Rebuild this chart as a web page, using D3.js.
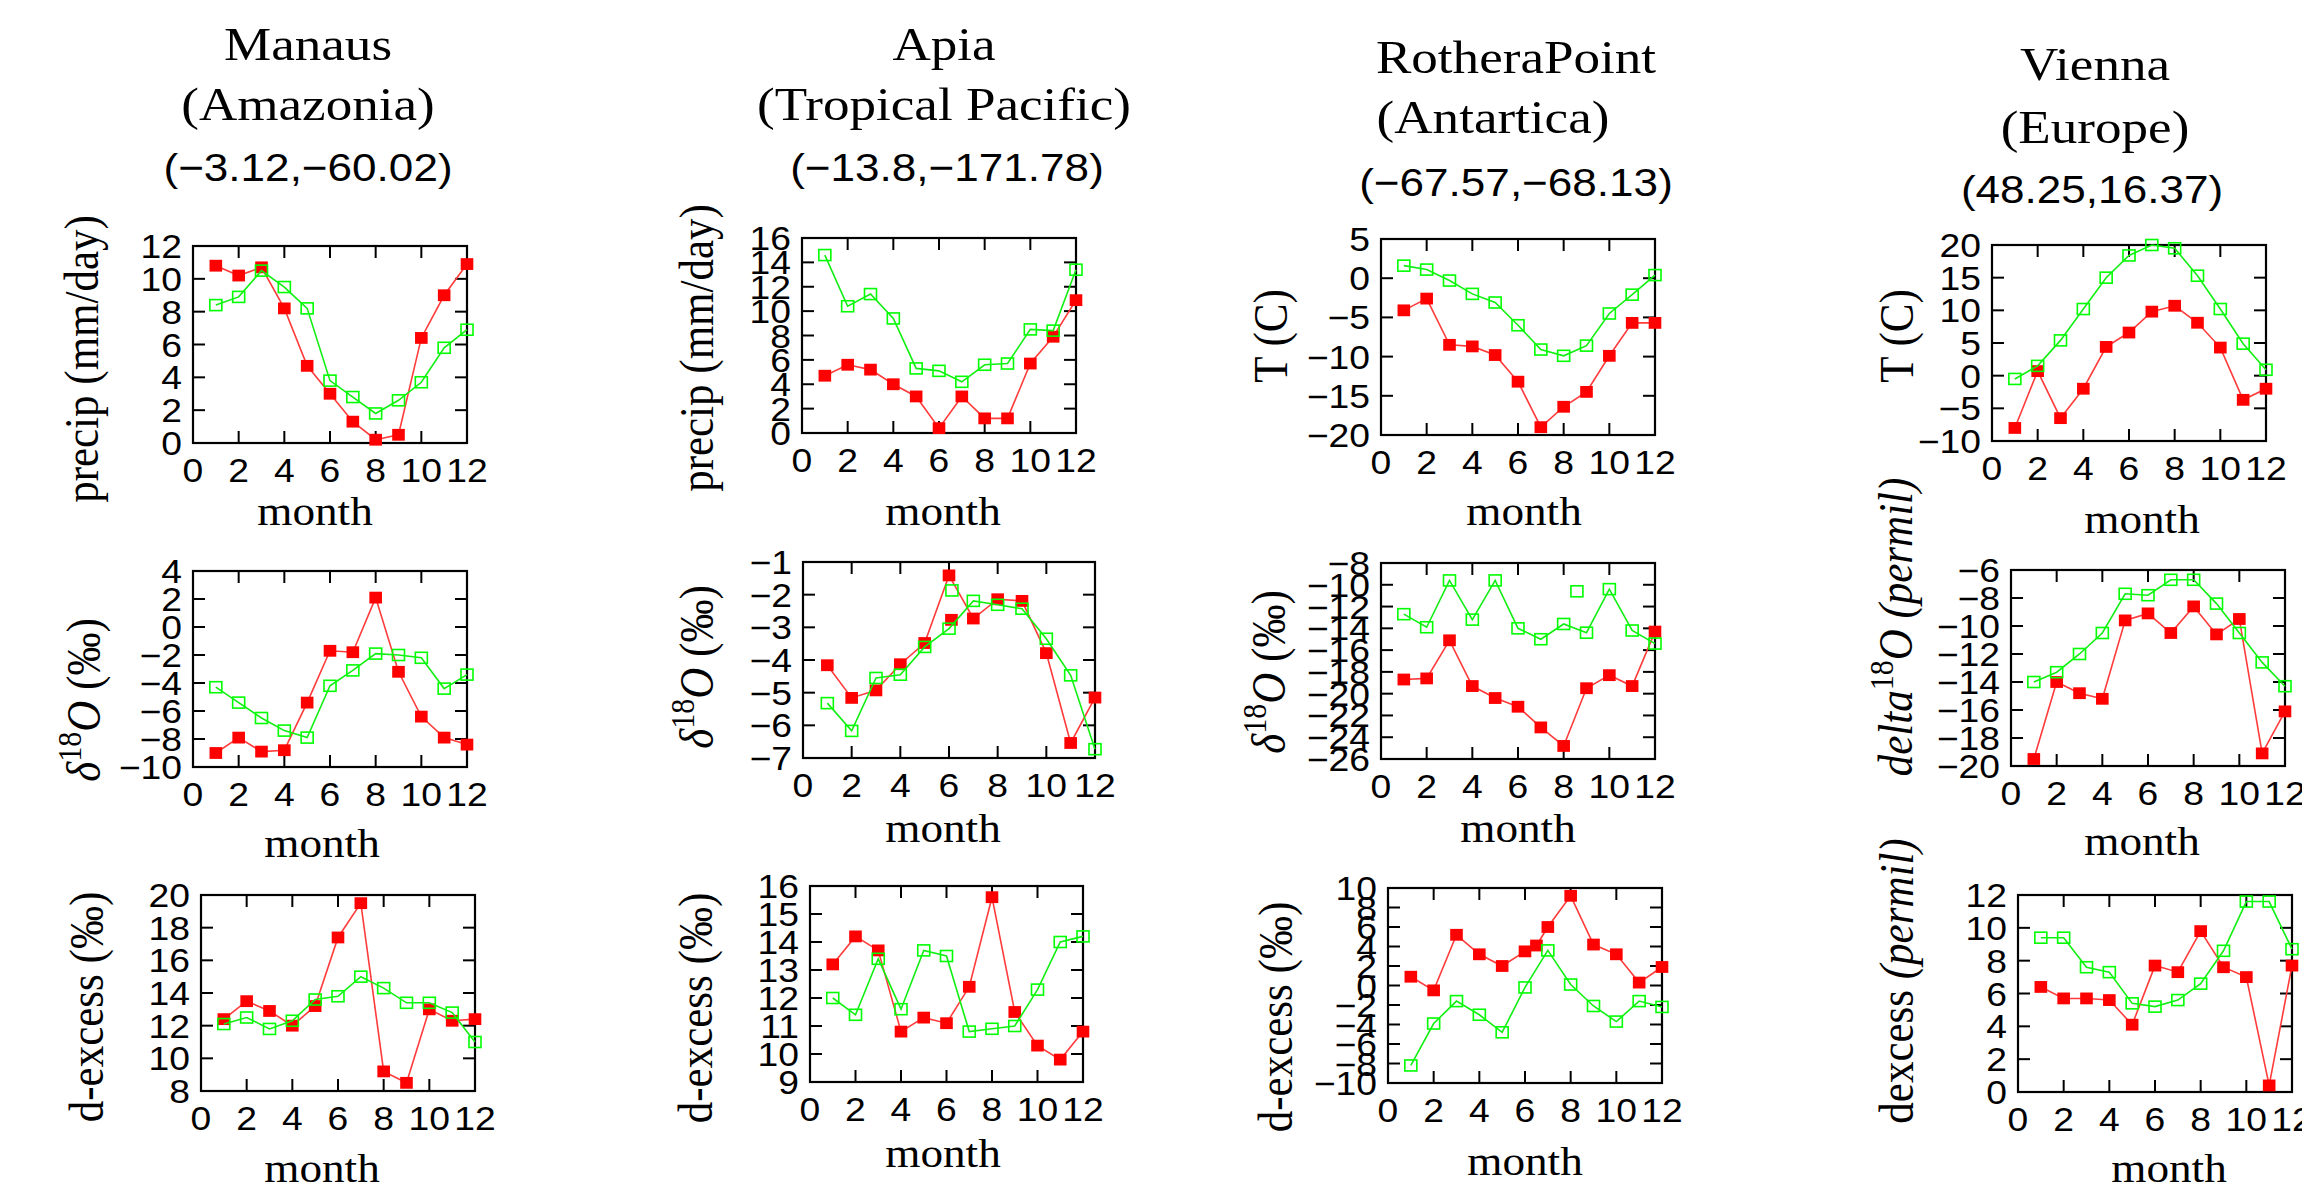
<!DOCTYPE html>
<html><head><meta charset="utf-8">
<script src="https://cdn.jsdelivr.net/npm/d3@7"></script>
<style>body{margin:0;background:#fff;} svg{display:block;}</style>
</head><body><svg id="c" width="2302" height="1187"></svg>
<script>
// ---------------- DATA ----------------
const months = [1,2,3,4,5,6,7,8,9,10,11,12];
const monthsRotheraDexRed = [1,2,3,4,5,6,6.5,7,8,9,10,11,12];
const xTicks = [0,2,4,6,8,10,12];

const stations = ["Manaus","Apia","RotheraPoint","Vienna"];
const regions = ["(Amazonia)","(Tropical Pacific)","(Antartica)","(Europe)"];
const coords = ["(\u22123.12,\u221260.02)","(\u221213.8,\u2212171.78)","(\u221267.57,\u221268.13)","(48.25,16.37)"];

const manausPrecipRed   = [10.8,10.2,10.7,8.2,4.7,3.0,1.3,0.2,0.5,6.4,9.0,10.9];
const manausPrecipGreen = [8.4,8.9,10.5,9.5,8.2,3.8,2.8,1.8,2.6,3.7,5.8,6.9];
const apiaPrecipRed     = [4.7,5.6,5.2,4.0,3.0,0.4,3.0,1.2,1.2,5.7,7.9,10.9];
const apiaPrecipGreen   = [14.6,10.4,11.4,9.4,5.3,5.1,4.2,5.6,5.7,8.5,8.4,13.4];
const rotheraTRed       = [-4.1,-2.6,-8.5,-8.7,-9.8,-13.2,-19.0,-16.4,-14.5,-9.9,-5.7,-5.7];
const rotheraTGreen     = [1.6,1.1,-0.3,-2.0,-3.1,-6.0,-9.1,-9.9,-8.6,-4.5,-2.1,0.4];
const viennaTRed        = [-8.0,0.7,-6.5,-2.0,4.4,6.6,9.8,10.7,8.1,4.3,-3.7,-2.0];
const viennaTGreen      = [-0.5,1.5,5.4,10.2,15.0,18.4,20.0,19.5,15.3,10.2,4.9,0.9];

const manausD18ORed     = [-9.0,-7.9,-8.9,-8.8,-5.4,-1.7,-1.8,2.1,-3.2,-6.4,-7.9,-8.4];
const manausD18OGreen   = [-4.3,-5.4,-6.5,-7.4,-7.9,-4.2,-3.1,-1.9,-2.0,-2.2,-4.4,-3.4];
const apiaD18ORed       = [-4.16,-5.16,-4.93,-4.13,-3.48,-1.41,-2.73,-2.14,-2.19,-3.79,-6.54,-5.15];
const apiaD18OGreen     = [-5.32,-6.17,-4.55,-4.45,-3.60,-3.04,-2.19,-2.31,-2.43,-3.35,-4.47,-6.73];
const apiaD18ORedExtra   = [[6.1,-2.77]];
const apiaD18OGreenExtra = [[6.12,-1.87]];
const rotheraD18ORed    = [-18.7,-18.6,-15.1,-19.3,-20.4,-21.2,-23.1,-24.8,-19.5,-18.3,-19.3,-14.3];
const rotheraD18OGreen  = [-12.7,-13.9,-9.6,-13.2,-9.6,-14.0,-15.0,-13.6,-14.4,-10.4,-14.2,-15.4];
const rotheraD18OGreenExtra = [[8.58,-10.6]];
const viennaD18ORed     = [-19.5,-14.0,-14.8,-15.2,-9.6,-9.1,-10.5,-8.6,-10.6,-9.5,-19.1,-16.1];
const viennaD18OGreen   = [-14.0,-13.3,-12.0,-10.5,-7.7,-7.8,-6.7,-6.7,-8.4,-10.5,-12.6,-14.3];

const manausDexRed      = [12.4,13.5,12.9,12.0,13.2,17.4,19.5,9.2,8.5,13.0,12.3,12.4];
const manausDexGreen    = [12.1,12.5,11.8,12.3,13.6,13.8,15.0,14.3,13.4,13.4,12.8,11.0];
const apiaDexRed        = [13.2,14.2,13.7,10.8,11.3,11.1,12.4,15.6,11.5,10.3,9.8,10.8];
const apiaDexGreen      = [12.0,11.4,13.4,11.6,13.7,13.5,10.8,10.9,11.0,12.3,14.0,14.2];
const rotheraDexRed     = [0.9,-0.5,5.2,3.2,2.0,3.5,4.1,6.0,9.2,4.2,3.2,0.3,1.9];
const rotheraDexGreen   = [-8.2,-3.9,-1.6,-3.0,-4.8,-0.2,3.6,0.1,-2.1,-3.7,-1.6,-2.2];
const viennaDexRed      = [6.4,5.7,5.7,5.6,4.1,7.7,7.3,9.8,7.6,7.0,0.4,7.7];
const viennaDexGreen    = [9.4,9.4,7.6,7.3,5.4,5.2,5.6,6.6,8.6,11.6,11.6,8.7];

const ticksManausPrecip = [0,2,4,6,8,10,12];
const ticksApiaPrecip   = [0,2,4,6,8,10,12,14,16];
const ticksRotheraT     = [-20,-15,-10,-5,0,5];
const ticksViennaT      = [-10,-5,0,5,10,15,20];
const ticksManausD18O   = [-10,-8,-6,-4,-2,0,2,4];
const ticksApiaD18O     = [-7,-6,-5,-4,-3,-2,-1];
const ticksRotheraD18O  = [-26,-24,-22,-20,-18,-16,-14,-12,-10,-8];
const ticksViennaD18O   = [-20,-18,-16,-14,-12,-10,-8,-6];
const ticksManausDex    = [8,10,12,14,16,18,20];
const ticksApiaDex      = [9,10,11,12,13,14,15,16];
const ticksRotheraDex   = [-10,-8,-6,-4,-2,0,2,4,6,8,10];
const ticksViennaDex    = [0,2,4,6,8,10,12];

// ---------------- LABELS ----------------
const LAB = {
  precip: [{t:"precip (mm/day)"}],
  T: [{t:"T (C)"}],
  d18O: [{t:"\u03b4",it:1},{t:"18",sup:1},{t:"O",it:1},{t:" (\u2030)"}],
  delta18O: [{t:"delta",it:1},{t:"18",sup:1},{t:"O",it:1},{t:" (permil)",it:1}],
  dex: [{t:"d-excess (\u2030)"}],
  dexcess: [{t:"dexcess "},{t:"(permil)",it:1}]
};

// ---------------- LAYOUT ----------------
const panels = [
 {f:[193,246,467,443], red:manausPrecipRed, green:manausPrecipGreen, ticks:ticksManausPrecip, lab:"precip", yl:[98,359], xl:[315,525]},
 {f:[802,238,1076,433], red:apiaPrecipRed, green:apiaPrecipGreen, ticks:ticksApiaPrecip, lab:"precip", yl:[713,348], xl:[943,525]},
 {f:[1381,239,1655,435], red:rotheraTRed, green:rotheraTGreen, ticks:ticksRotheraT, lab:"T", yl:[1287,336], xl:[1524,525]},
 {f:[1992,245,2266,441], red:viennaTRed, green:viennaTGreen, ticks:ticksViennaT, lab:"T", yl:[1913,336], xl:[2142,533]},
 {f:[193,571,467,767], red:manausD18ORed, green:manausD18OGreen, ticks:ticksManausD18O, lab:"d18O", yl:[100,700], xl:[322,857]},
 {f:[803,562,1095,758], red:apiaD18ORed, green:apiaD18OGreen, redX:apiaD18ORedExtra, greenX:apiaD18OGreenExtra, ticks:ticksApiaD18O, lab:"d18O", yl:[713,667], xl:[943,842]},
 {f:[1381,563,1655,759], red:rotheraD18ORed, green:rotheraD18OGreen, greenX:rotheraD18OGreenExtra, ticks:ticksRotheraD18O, lab:"d18O", yl:[1285,672], xl:[1518,842]},
 {f:[2011,570,2285,766], red:viennaD18ORed, green:viennaD18OGreen, ticks:ticksViennaD18O, lab:"delta18O", yl:[1912,627], xl:[2142,855]},
 {f:[201,895,475,1091], red:manausDexRed, green:manausDexGreen, ticks:ticksManausDex, lab:"dex", yl:[103,1007], xl:[322,1182]},
 {f:[810,886,1083,1082], red:apiaDexRed, green:apiaDexGreen, ticks:ticksApiaDex, lab:"dex", yl:[712,1008], xl:[943,1167]},
 {f:[1388,888,1662,1083], red:rotheraDexRed, redM:monthsRotheraDexRed, green:rotheraDexGreen, ticks:ticksRotheraDex, lab:"dex", yl:[1292,1017], xl:[1525,1175]},
 {f:[2018,895,2292,1092], red:viennaDexRed, green:viennaDexGreen, ticks:ticksViennaDex, lab:"dexcess", yl:[1913,981], xl:[2169,1182]}
];
const titlePos = [
 {x:308, y:[60,120,181]},
 {x:944, y:[60,120,181], cx:947},
 {x:1516, y:[73,133,196], rx:1493},
 {x:2095, y:[80,143,203], cx:2092}
];

// ---------------- DRAW ----------------
const SX = 1.13;
const SERIF = "'Liberation Serif','Times New Roman',serif";
const SANS = "'Liberation Sans',Arial,Helvetica,sans-serif";
const svg = d3.select("#c");
svg.append("rect").attr("width",2302).attr("height",1187).attr("fill","#fff");

function text(g, x, y, str, font, size, anchor, rot) {
  return g.append("text")
    .attr("transform", `translate(${x},${y}) scale(${SX},1)` + (rot ? " rotate(-90)" : ""))
    .attr("font-family", font).attr("font-size", size)
    .attr("text-anchor", anchor || "middle").attr("fill", "#000").text(str);
}

// titles
stations.forEach((s,i) => {
  const p = titlePos[i];
  text(svg, p.x, p.y[0], s, SERIF, 47);
  text(svg, p.rx || p.x, p.y[1], regions[i], SERIF, 47);
  text(svg, p.cx || p.x, p.y[2], coords[i], SANS, 39);
});

const fmt = v => (v < 0 ? "\u2212" + Math.abs(v) : String(v));
const TF = 33;

panels.forEach(p => {
  const [x0,y0,x1,y1] = p.f;
  const t = p.ticks;
  const x = d3.scaleLinear().domain([0,12]).range([x0,x1]);
  const y = d3.scaleLinear().domain([t[0], t[t.length-1]]).range([y1,y0]);
  const g = svg.append("g");
  const TL = 12;
  // ticks
  xTicks.forEach(v => {
    g.append("line").attr("x1",x(v)).attr("x2",x(v)).attr("y1",y1).attr("y2",y1-TL).attr("stroke","#000").attr("stroke-width",2);
    g.append("line").attr("x1",x(v)).attr("x2",x(v)).attr("y1",y0).attr("y2",y0+TL).attr("stroke","#000").attr("stroke-width",2);
    text(g, x(v), y1+39, String(v), SANS, TF);
  });
  t.forEach(v => {
    g.append("line").attr("x1",x0).attr("x2",x0+TL).attr("y1",y(v)).attr("y2",y(v)).attr("stroke","#000").attr("stroke-width",2);
    g.append("line").attr("x1",x1).attr("x2",x1-TL).attr("y1",y(v)).attr("y2",y(v)).attr("stroke","#000").attr("stroke-width",2);
    text(g, x0-11, y(v)+12, fmt(v), SANS, TF, "end");
  });
  g.append("rect").attr("x",x0).attr("y",y0).attr("width",x1-x0).attr("height",y1-y0)
    .attr("fill","none").attr("stroke","#000").attr("stroke-width",2.2);

  // axis labels
  text(g, p.xl[0], p.xl[1], "month", SERIF, 40);
  const yt = g.append("text")
    .attr("transform", `translate(${p.yl[0]},${p.yl[1]}) scale(${SX},1) rotate(-90)`)
    .attr("font-family", SERIF).attr("font-size", 43).attr("text-anchor","middle").attr("fill","#000");
  let shift = 0;
  LAB[p.lab].forEach(seg => {
    const ts = yt.append("tspan").text(seg.t);
    if (seg.it) ts.attr("font-style","italic");
    if (seg.sup) { ts.attr("font-size", 30).attr("dy", -17); shift = 17; }
    else if (shift) { ts.attr("dy", shift); shift = 0; }
  });

  // series
  const redM = p.redM || months;
  const redPts = p.red.map((v,i) => [redM[i], v]);
  const greenPts = p.green.map((v,i) => [months[i], v]);
  const line = d3.line().x(d => x(d[0])).y(d => y(d[1]));
  g.append("path").attr("d", line(redPts)).attr("fill","none").attr("stroke","#ff3b3b").attr("stroke-width",1.6);
  const reds = redPts.concat(p.redX || []);
  g.selectAll(null).data(reds).enter().append("rect")
    .attr("x", d => x(d[0]) - 6.3).attr("y", d => y(d[1]) - 5.9)
    .attr("width", 12.6).attr("height", 11.8).attr("fill", "#ff0000");
  g.append("path").attr("d", line(greenPts)).attr("fill","none").attr("stroke","#11ee11").attr("stroke-width",1.6);
  const greens = greenPts.concat(p.greenX || []);
  g.selectAll(null).data(greens).enter().append("rect")
    .attr("x", d => x(d[0]) - 6).attr("y", d => y(d[1]) - 5.5)
    .attr("width", 12).attr("height", 11).attr("fill", "none")
    .attr("stroke", "#00ff00").attr("stroke-width", 1.6);
});
</script>
</body></html>
